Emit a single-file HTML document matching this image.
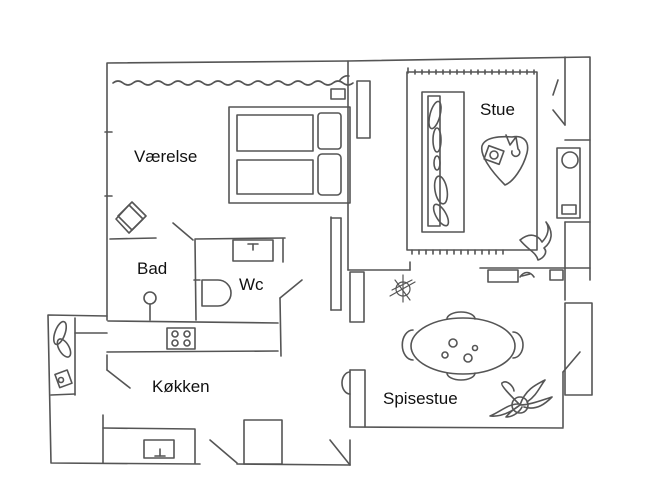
<!DOCTYPE html>
<html><head><meta charset="utf-8"><style>
html,body{margin:0;padding:0;background:#fff;}
svg{display:block}
text{font-family:"Liberation Sans",sans-serif;font-size:17px;fill:#111}
</style></head><body>
<svg width="648" height="491" viewBox="0 0 648 491" xmlns="http://www.w3.org/2000/svg">
<g fill="none" stroke="#555" stroke-width="1.6" stroke-linecap="round" stroke-linejoin="round">
<!-- outer walls -->
<polyline points="107,320 107,63 348,61 590,57 590,280"/>
<line x1="565" y1="57" x2="565" y2="125"/>
<line x1="105" y1="132" x2="112" y2="132"/>
<line x1="105" y1="196" x2="112" y2="196"/>
<!-- curtain -->
<path d="M113,83 q5,-4 10,0 t10,0 t10,0 t10,0 t10,0 t10,0 t10,0 t10,0 t10,0 t10,0 t10,0 t10,0 t10,0 t10,0 t10,0 t10,0 t10,0 t10,0 t10,0 t10,0 t10,0 t10,0 t10,0 t10,0"/>
<path d="M340,80 q4,-5 9,-4"/>
<rect x="331" y="89" width="14" height="10"/>
<!-- bed -->
<rect x="229" y="107" width="121" height="96"/>
<rect x="237" y="115" width="76" height="36"/>
<rect x="237" y="160" width="76" height="34"/>
<rect x="318" y="113" width="23" height="36" rx="3"/>
<rect x="318" y="154" width="23" height="41" rx="4"/>
<!-- chair diamond -->
<polygon points="132,202 146,216 132,230 118,216"/>
<polygon points="129,205 143,219 129,233 116,219"/>
<!-- bad -->
<line x1="110" y1="239" x2="156" y2="238"/>
<line x1="173" y1="223" x2="193" y2="240"/>
<line x1="195" y1="240" x2="196" y2="320"/>
<line x1="195" y1="239" x2="285" y2="238"/>
<line x1="283" y1="239" x2="283" y2="262"/>
<rect x="233" y="240" width="40" height="21"/>
<line x1="248" y1="244" x2="258" y2="244"/><line x1="253" y1="244" x2="253" y2="250"/>
<path d="M202,280 L218,280 A13,13 0 0 1 218,306 L202,306 Z"/>
<line x1="194" y1="280" x2="200" y2="280"/>
<circle cx="150" cy="298" r="6"/>
<line x1="150" y1="304" x2="150" y2="320"/>
<!-- kitchen -->
<line x1="108" y1="321" x2="278" y2="323"/>
<line x1="107" y1="352" x2="278" y2="351"/>
<line x1="280" y1="298" x2="281" y2="356"/>
<line x1="280" y1="298" x2="302" y2="280"/>
<rect x="167" y="328" width="28" height="21"/>
<circle cx="175" cy="334" r="3"/><circle cx="187" cy="334" r="3"/><circle cx="175" cy="343" r="3"/><circle cx="187" cy="343" r="3"/>
<polyline points="107,316 48,315 51,463 200,464"/>
<line x1="75" y1="318" x2="75" y2="395"/>
<line x1="51" y1="395" x2="75" y2="394"/>
<line x1="75" y1="333" x2="107" y2="333"/>
<ellipse cx="60" cy="333" rx="5" ry="12" transform="rotate(20 60 333)"/>
<ellipse cx="64" cy="348" rx="5" ry="10" transform="rotate(-30 64 348)"/>
<rect x="57" y="372" width="13" height="14" transform="rotate(-20 63 379)"/>
<circle cx="61" cy="380" r="2.5"/>
<line x1="107" y1="355" x2="107" y2="370"/>
<line x1="107" y1="370" x2="130" y2="388"/>
<line x1="103" y1="415" x2="103" y2="463"/>
<polyline points="103,428 195,429 195,463"/>
<rect x="144" y="440" width="30" height="18"/>
<line x1="160" y1="449" x2="160" y2="456"/><line x1="155" y1="456" x2="165" y2="456"/>
<line x1="210" y1="440" x2="237" y2="463"/>
<line x1="237" y1="464" x2="350" y2="465"/>
<rect x="244" y="420" width="38" height="44"/>
<line x1="330" y1="440" x2="350" y2="465"/>
<line x1="350" y1="440" x2="350" y2="465"/>
<!-- middle wall -->
<line x1="348" y1="61" x2="348" y2="270"/>
<line x1="348" y1="270" x2="410" y2="270"/>
<line x1="410" y1="262" x2="410" y2="270"/>
<rect x="357" y="81" width="13" height="57"/>
<line x1="331" y1="217" x2="331" y2="310"/>
<line x1="341" y1="218" x2="341" y2="310"/>
<line x1="331" y1="218" x2="341" y2="218"/>
<line x1="331" y1="310" x2="341" y2="310"/>
<rect x="350" y="272" width="14" height="50"/>
<!-- rug -->
<rect x="407" y="72" width="130" height="178"/>
<path d="M408,68 v5 M415,70 v4 M422,70 v4 M429,70 v4 M436,70 v4 M443,70 v4 M450,70 v4 M457,70 v4 M464,70 v4 M471,70 v4 M478,70 v4 M485,70 v4 M492,70 v4 M499,70 v4 M506,70 v4 M513,70 v4 M520,70 v4 M527,70 v4 M534,70 v4"/>
<path d="M412,250 v4 M419,250 v4 M426,250 v4 M433,250 v4 M440,250 v4 M447,250 v4 M454,250 v4 M461,250 v4 M468,250 v4 M475,250 v4 M482,250 v4 M489,250 v4 M496,250 v4 M503,250 v4"/>
<!-- sofa -->
<rect x="422" y="92" width="42" height="140"/>
<rect x="428" y="96" width="12" height="130"/>
<ellipse cx="435" cy="115" rx="5" ry="14" transform="rotate(15 435 115)"/>
<ellipse cx="437" cy="140" rx="4" ry="12"/>
<ellipse cx="437" cy="163" rx="3" ry="7"/>
<ellipse cx="441" cy="190" rx="6" ry="14" transform="rotate(-10 441 190)"/>
<ellipse cx="441" cy="215" rx="5" ry="12" transform="rotate(-30 441 215)"/>
<!-- coffee table -->
<path d="M505,185 C490,170 480,155 482,146 C485,137 500,136 512,137 C522,135 530,140 527,153 C523,168 513,182 505,185 Z"/>
<rect x="486" y="148" width="16" height="14" transform="rotate(20 494 155)"/>
<circle cx="494" cy="155" r="4"/>
<path d="M506,135 l4,10 l6,-8 l2,12 a4,4 0 1 1 -6,2"/>
<!-- right wall furniture -->
<line x1="565" y1="140" x2="590" y2="140"/>
<rect x="557" y="148" width="23" height="70"/>
<circle cx="570" cy="160" r="8"/>
<rect x="562" y="205" width="14" height="9"/>
<line x1="565" y1="222" x2="590" y2="222"/>
<line x1="565" y1="222" x2="565" y2="300"/>
<line x1="558" y1="80" x2="553" y2="95"/>
<line x1="553" y1="110" x2="565" y2="125"/>
<path d="M520,240 c10,-8 18,-5 22,2 c6,-6 8,-14 4,-20 c8,10 6,20 -2,26 c4,4 0,10 -6,12 c-2,-8 -10,-10 -18,-20 z"/>
<line x1="480" y1="268" x2="590" y2="268"/>
<rect x="488" y="270" width="30" height="12"/>
<rect x="550" y="270" width="13" height="10"/>
<path d="M520,277 c4,-6 10,-6 14,0 M522,276 l8,-2"/>
<!-- star rug -->
<path d="M392,290 l20,-10 M395,280 l15,20 M403,275 l0,27 M390,296 l25,-14" stroke-width="1.2"/>
<circle cx="403" cy="289" r="7" stroke-width="1.2"/>
<!-- right lower -->
<rect x="565" y="303" width="27" height="92"/>
<line x1="563" y1="372" x2="580" y2="352"/>
<line x1="563" y1="372" x2="563" y2="427"/>
<polyline points="350,370 365,370 365,427"/>
<line x1="350" y1="370" x2="350" y2="427"/>
<line x1="350" y1="427" x2="563" y2="428"/>
<path d="M350,372 a8,11 0 0 0 0,22"/>
<!-- dining table -->
<ellipse cx="463" cy="346" rx="52" ry="28"/>
<path d="M447,319 a14,7 0 0 1 28,0"/>
<path d="M447,373 a14,7 0 0 0 28,0"/>
<path d="M413,330 a10,14 0 0 0 0,30"/>
<path d="M513,332 a10,13 0 0 1 0,26"/>
<circle cx="453" cy="343" r="4"/><circle cx="475" cy="348" r="2.5"/><circle cx="468" cy="358" r="4"/><circle cx="445" cy="355" r="3"/>
<!-- plant -->
<circle cx="520" cy="405" r="8"/>
<path d="M520,405 c-10,-10 -20,-20 -18,-22 c5,-4 12,4 12,8 M520,405 c5,-15 15,-20 25,-25 c-6,8 -8,15 -18,22 M520,405 c10,0 22,-5 32,-8 c-6,6 -15,14 -28,10 M520,405 c-10,8 -20,12 -30,11 c10,-4 18,-12 28,-12 M520,405 c-8,5 -14,12 -14,12 c8,0 14,-6 16,-10"/>
</g>
<text x="134" y="162">Værelse</text>
<text x="137" y="274">Bad</text>
<text x="239" y="290">Wc</text>
<text x="152" y="392">Køkken</text>
<text x="480" y="115">Stue</text>
<text x="383" y="404">Spisestue</text>
</svg>
</body></html>
